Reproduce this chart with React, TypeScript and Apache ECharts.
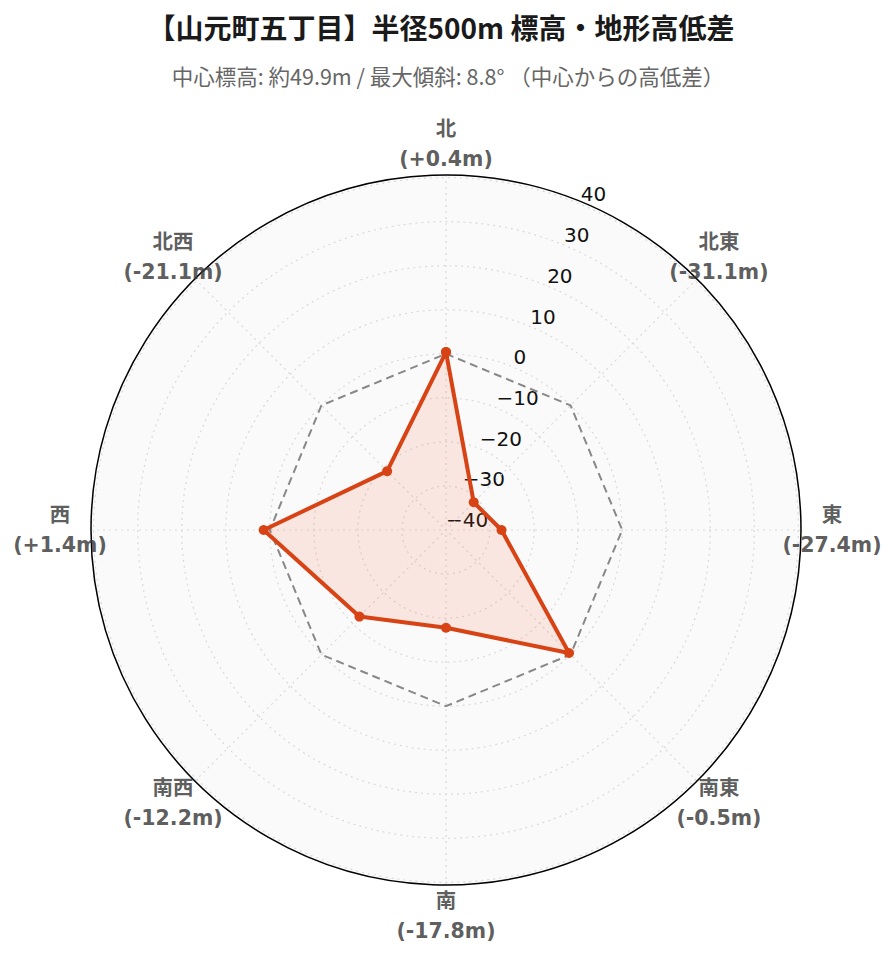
import React, { useEffect, useRef } from "react";
import * as echarts from "echarts";

const titleText = "【山元町五丁目】半径500m 標高・地形高低差";
const subtitleText = "中心標高: 約49.9m / 最大傾斜: 8.8° （中心からの高低差）";
const directions = ["北", "北東", "東", "南東", "南", "南西", "西", "北西"];
const angles = [0, 45, 90, 135, 180, 225, 270, 315];
const diffs = [0.4, -31.1, -27.4, -0.5, -17.8, -12.2, 1.4, -21.1];
const referenceLevel = [0, 0, 0, 0, 0, 0, 0, 0];
const radialMin = -40;
const radialMax = 40.6;
const radialStep = 10;

const fmtDiff = (v: number) => `(${v >= 0 ? "+" : "-"}${Math.abs(v).toFixed(1)}m)`;

export default function App() {
  const ref = useRef<HTMLDivElement>(null);
  useEffect(() => {
    if (!ref.current) return;
    const chart = echarts.init(ref.current, undefined, { renderer: "svg" });
    const CX = 446;
    const CY = 530;
    const R = 355;
    const closed = (arr: number[]) =>
      [...arr.map((v, i) => [v, angles[i]]), [arr[0], 360]];
    const labelFont = "'DejaVu Sans', 'Noto Sans CJK JP', sans-serif";
    const gridLine = { show: true, lineStyle: { color: "#d9d9d9", type: [2, 4], width: 1.2 } };
    chart.setOption({
      animation: false,
      backgroundColor: "#ffffff",
      title: [
        {
          text: titleText,
          left: 436,
          textAlign: "center",
          top: 8,
          textStyle: {
            fontFamily: "'Noto Sans CJK JP', sans-serif",
            fontSize: 28,
            fontWeight: "bold",
            color: "#1a1a1a",
          },
        },
        {
          text: subtitleText,
          left: 443,
          textAlign: "center",
          top: 60,
          textStyle: {
            fontFamily: "'Noto Sans CJK JP', sans-serif",
            fontSize: 21.5,
            fontWeight: "normal",
            color: "#666666",
          },
        },
      ],
      polar: [
        { center: [CX, CY], radius: R },
        { center: [CX, CY], radius: R },
        { center: [CX, CY], radius: 386 },
      ],
      angleAxis: [
        {
          polarIndex: 0,
          type: "value",
          min: 0,
          max: 360,
          interval: 45,
          startAngle: 90,
          clockwise: true,
          z: 2,
          axisLine: { show: true, lineStyle: { color: "#000000", width: 1.5 } },
          axisTick: { show: false },
          axisLabel: { show: false },
          splitLine: gridLine,
        },
        {
          polarIndex: 1,
          type: "value",
          min: 0,
          max: 360,
          startAngle: 67.5,
          clockwise: true,
          axisLine: { show: false },
          axisTick: { show: false },
          axisLabel: { show: false },
          splitLine: { show: false },
        },
        {
          polarIndex: 2,
          type: "value",
          min: 0,
          max: 360,
          startAngle: 90,
          clockwise: true,
          axisLine: { show: false },
          axisTick: { show: false },
          axisLabel: { show: false },
          splitLine: { show: false },
        },
      ],
      radiusAxis: [
        {
          polarIndex: 0,
          type: "value",
          min: radialMin,
          max: radialMax,
          interval: radialStep,
          z: 2,
          axisLine: { show: false },
          axisTick: { show: false },
          axisLabel: { show: false },
          splitLine: gridLine,
        },
        {
          polarIndex: 1,
          type: "value",
          min: radialMin,
          max: radialMax,
          interval: radialStep,
          z: 1,
          axisLine: { show: false },
          axisTick: { show: false },
          splitLine: { show: false },
          splitArea: { show: true, areaStyle: { color: ["#fafafa", "#fafafa"] } },
          axisLabel: {
            show: true,
            margin: 0,
            align: "left",
            verticalAlign: "bottom",
            fontSize: 20,
            fontFamily: labelFont,
            color: "#111111",
            showMinLabel: true,
            showMaxLabel: false,
            formatter: (v: number) =>
              Math.abs(v % radialStep) > 1e-6 ? "" : v < 0 ? `\u2212${Math.abs(v)}` : `${v}`,
          },
        },
        {
          polarIndex: 2,
          type: "value",
          min: 0,
          max: 1,
          show: false,
        },
      ],
      series: [
        {
          type: "line",
          coordinateSystem: "polar",
          polarIndex: 0,
          data: closed(referenceLevel),
          symbol: "none",
          lineStyle: { color: "#888888", width: 2, type: [8, 5] },
          z: 3,
          silent: true,
        },
        {
          type: "line",
          coordinateSystem: "polar",
          polarIndex: 0,
          data: closed(diffs),
          symbol: "circle",
          symbolSize: 10,
          showAllSymbol: true,
          itemStyle: { color: "#d84315" },
          lineStyle: { color: "#d84315", width: 4 },
          areaStyle: { color: "rgba(255, 87, 34, 0.17)", origin: "start" },
          z: 4,
        },
        {
          type: "scatter",
          coordinateSystem: "polar",
          polarIndex: 2,
          clip: false,
          symbolSize: 1,
          itemStyle: { color: "rgba(0,0,0,0)" },
          data: directions.map((d, i) => ({
            value: [1, angles[i]],
            name: d,
          })),
          label: {
            show: true,
            position: "inside",
            fontFamily: labelFont,
            fontSize: 20.5,
            fontWeight: "bold",
            color: "#333333",
            lineHeight: 30,
            align: "center",
            verticalAlign: "middle",
            formatter: (p: any) => `${directions[p.dataIndex]}\n${fmtDiff(diffs[p.dataIndex])}`,
          },
          z: 10,
          silent: true,
        },
      ],
    });
    return () => chart.dispose();
  }, []);
  return (
    <div
      ref={ref}
      style={{ position: "fixed", left: 0, top: 0, width: 896, height: 962 }}
    />
  );
}
